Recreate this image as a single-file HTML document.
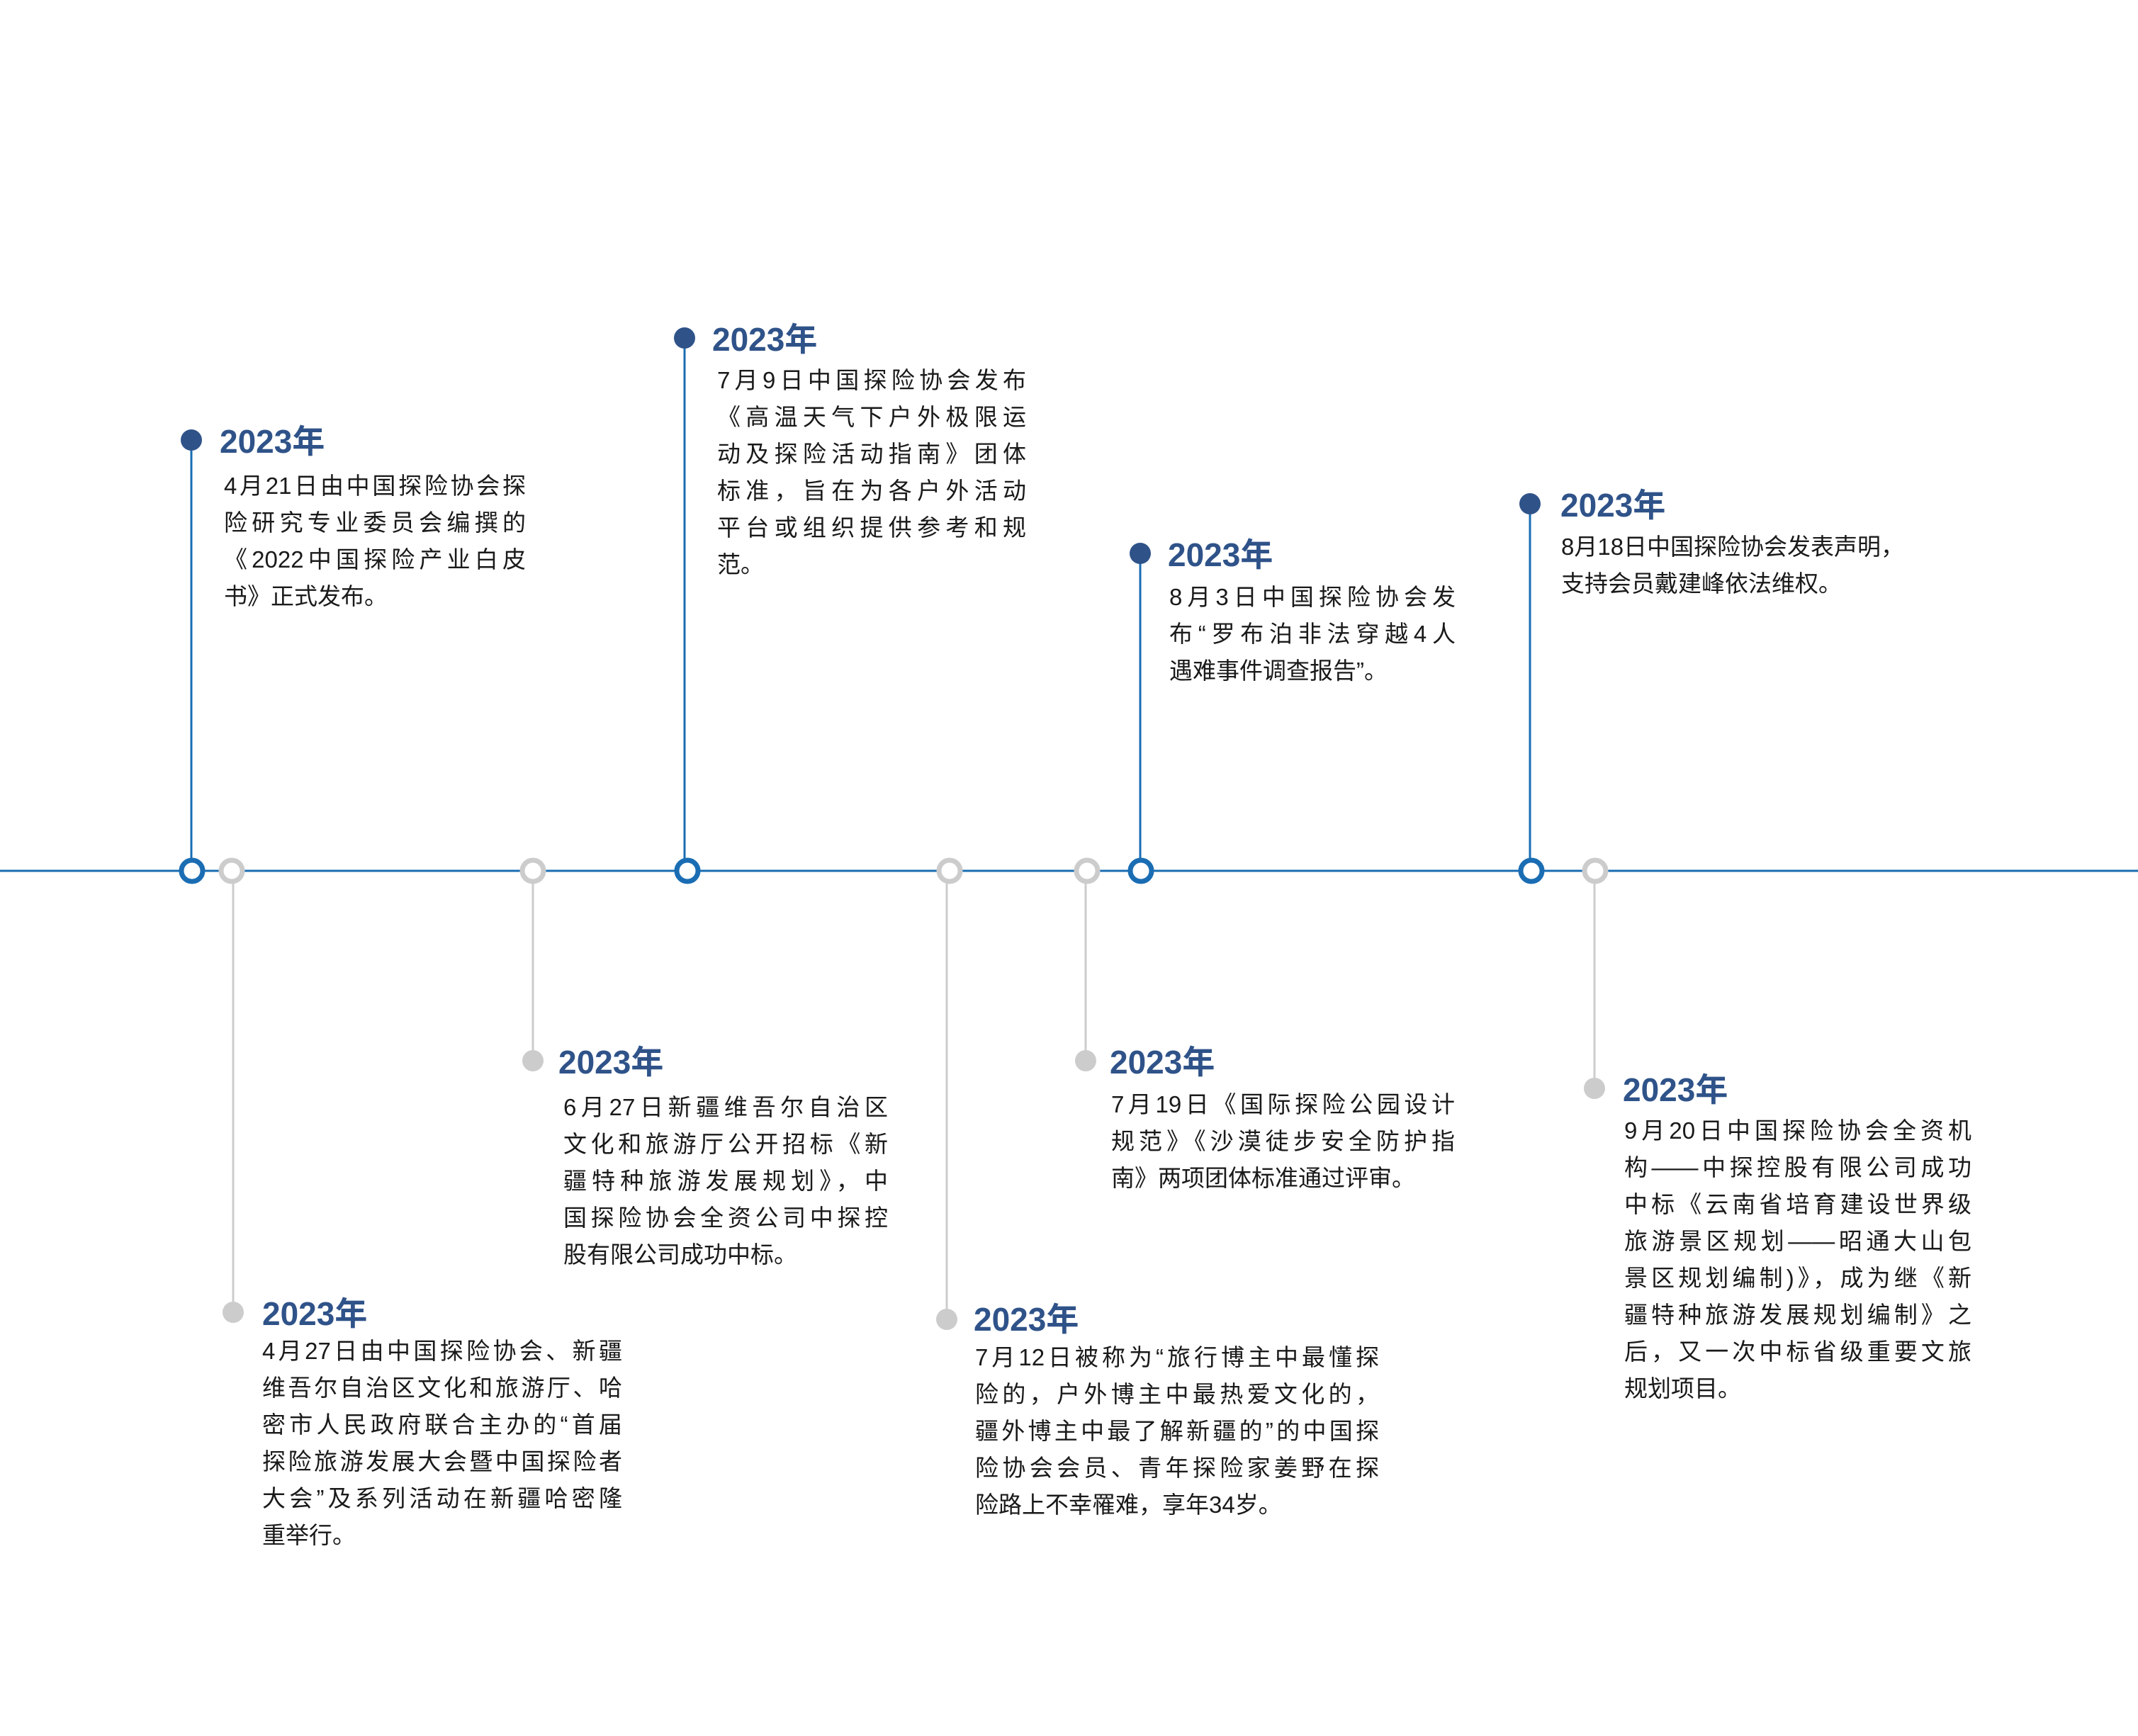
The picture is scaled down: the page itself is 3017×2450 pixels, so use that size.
<!DOCTYPE html>
<html><head><meta charset="utf-8"><style>
html,body{margin:0;padding:0;background:#fff;}
#c{position:relative;width:3017px;height:2450px;overflow:hidden;background:#fff;}
svg{position:absolute;left:0;top:0;}
.y{position:absolute;font-family:"Liberation Sans","Noto Sans CJK SC",sans-serif;font-weight:bold;font-size:46px;color:#2f5389;line-height:60px;height:60px;white-space:nowrap;}
.b{position:absolute;font-family:"Liberation Sans","Noto Sans CJK SC",sans-serif;font-size:33px;color:#1a1a1a;}
.b div{height:52px;line-height:52px;white-space:nowrap;text-align:justify;text-align-last:justify;}
.b div.l{text-align:left;text-align-last:left;}
</style></head><body><div id="c">
<svg width="3017" height="2450" viewBox="0 0 3017 2450">
<line x1="0" y1="1229" x2="3017" y2="1229" stroke="#1a6db3" stroke-width="3"/>
<g stroke="#1a6db3" stroke-width="3">
<line x1="270" y1="621" x2="270" y2="1229"/>
<line x1="966" y1="477" x2="966" y2="1229"/>
<line x1="1609" y1="781" x2="1609" y2="1229"/>
<line x1="2159" y1="711" x2="2159" y2="1229"/>
</g>
<g stroke="#cccccc" stroke-width="3">
<line x1="329" y1="1229" x2="329" y2="1852"/>
<line x1="752" y1="1229" x2="752" y2="1497"/>
<line x1="1336" y1="1229" x2="1336" y2="1862"/>
<line x1="1532" y1="1229" x2="1532" y2="1497"/>
<line x1="2250" y1="1229" x2="2250" y2="1536"/>
</g>
<g fill="#2f5389">
<circle cx="270" cy="621" r="15"/>
<circle cx="966" cy="477" r="15"/>
<circle cx="1609" cy="781" r="15"/>
<circle cx="2159" cy="711" r="15"/>
</g>
<g fill="#cccccc">
<circle cx="329" cy="1852" r="15"/>
<circle cx="752" cy="1497" r="15"/>
<circle cx="1336" cy="1862" r="15"/>
<circle cx="1532" cy="1497" r="15"/>
<circle cx="2250" cy="1536" r="15"/>
</g>
<g fill="#fff" stroke="#1a6db3" stroke-width="7">
<circle cx="271" cy="1229" r="15"/>
<circle cx="970" cy="1229" r="15"/>
<circle cx="1610" cy="1229" r="15"/>
<circle cx="2161" cy="1229" r="15"/>
</g>
<g fill="#fff" stroke="#cccccc" stroke-width="7">
<circle cx="327" cy="1229" r="15"/>
<circle cx="752" cy="1229" r="15"/>
<circle cx="1340" cy="1229" r="15"/>
<circle cx="1534" cy="1229" r="15"/>
<circle cx="2251" cy="1229" r="15"/>
</g>
</svg>

<div class="y" style="left:310px;top:593px;">2023年</div>
<div class="b" style="left:316px;top:660px;width:426px;">
<div>4月21日由中国探险协会探</div><div>险研究专业委员会编撰的</div><div>《2022中国探险产业白皮</div><div class="l">书》正式发布。</div></div>

<div class="y" style="left:1005px;top:449px;">2023年</div>
<div class="b" style="left:1012px;top:511px;width:436px;">
<div>7月9日中国探险协会发布</div><div>《高温天气下户外极限运</div><div>动及探险活动指南》团体</div><div>标准，旨在为各户外活动</div><div>平台或组织提供参考和规</div><div class="l">范。</div></div>

<div class="y" style="left:1648px;top:753px;">2023年</div>
<div class="b" style="left:1650px;top:817px;width:404px;">
<div>8月3日中国探险协会发</div><div>布“罗布泊非法穿越4人</div><div class="l">遇难事件调查报告”。</div></div>

<div class="y" style="left:2202px;top:683px;">2023年</div>
<div class="b" style="left:2203px;top:746px;width:520px;">
<div class="l">8月18日中国探险协会发表声明，</div><div class="l">支持会员戴建峰依法维权。</div></div>

<div class="y" style="left:370px;top:1824px;">2023年</div>
<div class="b" style="left:370px;top:1881px;width:508px;">
<div>4月27日由中国探险协会、新疆</div><div>维吾尔自治区文化和旅游厅、哈</div><div>密市人民政府联合主办的“首届</div><div>探险旅游发展大会暨中国探险者</div><div>大会”及系列活动在新疆哈密隆</div><div class="l">重举行。</div></div>

<div class="y" style="left:788px;top:1469px;">2023年</div>
<div class="b" style="left:795px;top:1537px;width:458px;">
<div>6月27日新疆维吾尔自治区</div><div>文化和旅游厅公开招标《新</div><div>疆特种旅游发展规划》，中</div><div>国探险协会全资公司中探控</div><div class="l">股有限公司成功中标。</div></div>

<div class="y" style="left:1374px;top:1832px;">2023年</div>
<div class="b" style="left:1376px;top:1890px;width:570px;">
<div>7月12日被称为“旅行博主中最懂探</div><div>险的，户外博主中最热爱文化的，</div><div>疆外博主中最了解新疆的”的中国探</div><div>险协会会员、青年探险家姜野在探</div><div class="l">险路上不幸罹难，享年34岁。</div></div>

<div class="y" style="left:1566px;top:1469px;">2023年</div>
<div class="b" style="left:1568px;top:1533px;width:485px;">
<div>7月19日《国际探险公园设计</div><div>规范》《沙漠徒步安全防护指</div><div class="l">南》两项团体标准通过评审。</div></div>

<div class="y" style="left:2290px;top:1508px;">2023年</div>
<div class="b" style="left:2292px;top:1570px;width:490px;">
<div>9月20日中国探险协会全资机</div><div>构——中探控股有限公司成功</div><div>中标《云南省培育建设世界级</div><div>旅游景区规划——昭通大山包</div><div>景区规划编制)》，成为继《新</div><div>疆特种旅游发展规划编制》之</div><div>后，又一次中标省级重要文旅</div><div class="l">规划项目。</div></div>
</div></body></html>
